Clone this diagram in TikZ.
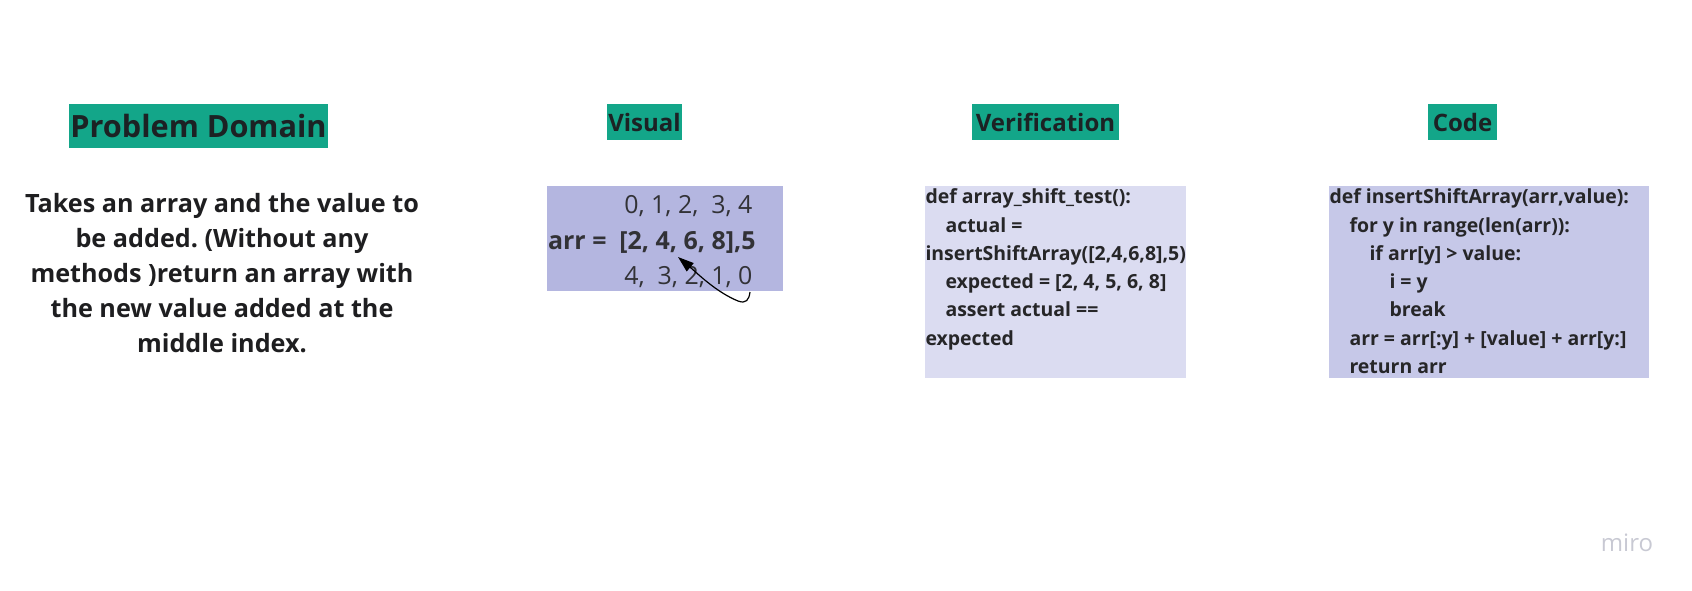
\documentclass[tikz,border=0pt]{standalone}
\usepackage{fontspec}
\setmainfont{Open Sans}
\usetikzlibrary{arrows.meta}
\frenchspacing

\tikzset{every picture/.style={line width=0.75pt}}
\tikzset{
  heading/.style={fill={rgb, 255:red, 19; green, 166; blue, 137}, inner sep=0pt, text={rgb, 255:red, 28; green, 34; blue, 36}, font=\fontsize{18}{20}\selectfont\bfseries},
  codetext/.style={anchor=north west, inner sep=0pt, align=left, text={rgb, 255:red, 38; green, 38; blue, 40}, font=\fontsize{14.6}{21.2}\selectfont\bfseries},
  arrtext/.style={anchor=base east, inner sep=0pt, text={rgb, 255:red, 50; green, 50; blue, 54}, font=\fontsize{18.7}{20}\selectfont}
}
\newcommand{\ind}[1]{\hspace*{#1}}

\begin{document}
\begin{tikzpicture}[x=0.75pt,y=0.75pt,yscale=-1,xscale=1]
\useasboundingbox (0,0) rectangle (1692,590);

%Shape: Rectangle [visual box]
\draw [draw=none, fill={rgb, 255:red, 180; green, 182; blue, 224 }] (547,186) rectangle (783,291);
%Shape: Rectangle [verification box]
\draw [draw=none, fill={rgb, 255:red, 219; green, 220; blue, 241 }] (925,186) rectangle (1186,378);
%Shape: Rectangle [code box]
\draw [draw=none, fill={rgb, 255:red, 198; green, 200; blue, 232 }] (1329,186) rectangle (1649,378);

% Headings
\node (domainhead) at (198.5,126) [heading, minimum width=194.25pt, minimum height=33pt, font=\fontsize{23}{25}\selectfont\bfseries] {Problem Domain};
\node (visualhead) at (644.5,122) [heading, minimum width=56.25pt, minimum height=27pt] {Visual};
\node (verifyhead) at (1045.5,122) [heading, minimum width=110.25pt, minimum height=27pt] {Verification};
\node (codehead) at (1462.5,122) [heading, minimum width=51.75pt, minimum height=27pt] {Code};

% Text Node
\node (domaintext) at (222,193) [anchor=north, inner sep=0pt, align=center, text={rgb, 255:red, 30; green, 30; blue, 32}, font=\fontsize{18.9}{26.25}\selectfont\bfseries] {Takes an array and the value to\\be added. (Without any\\methods )return an array with\\the new value added at the\\middle index.};

% Visual rows
\node (indexrow) at (753,213) [arrtext] {0, 1, 2,\ \ 3, 4};
\node (arrrow) at (756,249) [arrtext, font=\fontsize{18.7}{20}\selectfont\bfseries] {arr =\ \ [2, 4, 6, 8],5};
\node (backrow) at (753,284) [arrtext] {4,\ \ 3, 2, 1, 0};

%Curve Lines [insert arrow]
\coordinate (zeromark) at (750,292);
\coordinate (insertpt) at (678,257);
\draw [line width=0.9pt, -{Triangle[length=12pt, width=8pt]}] (zeromark) .. controls (749,300) and (746,304) .. (738,301) .. controls (716,292) and (697,273) .. (insertpt);

% Verification code
\node (verifycode) at (925,188.5) [codetext] {def array\_shift\_test():\\\ind{15pt}actual =\\insertShiftArray([2,4,6,8],5)\\\ind{15pt}expected = [2, 4, 5, 6, 8]\\\ind{15pt}assert actual ==\\expected};

% Code
\node (insertcode) at (1329,188.5) [codetext] {def insertShiftArray(arr,value):\\\ind{15pt}for y in range(len(arr)):\\\ind{30pt}if arr[y] > value:\\\ind{45pt}i = y\\\ind{45pt}break\\\ind{15pt}arr = arr[:y] + [value] + arr[y:]\\\ind{15pt}return arr};

% Text Node
\node (mirologo) at (1627,543) [inner sep=0pt, text={rgb, 255:red, 200; green, 201; blue, 211}, font=\fontsize{18}{20}\selectfont] {miro};

\end{tikzpicture}
\end{document}
